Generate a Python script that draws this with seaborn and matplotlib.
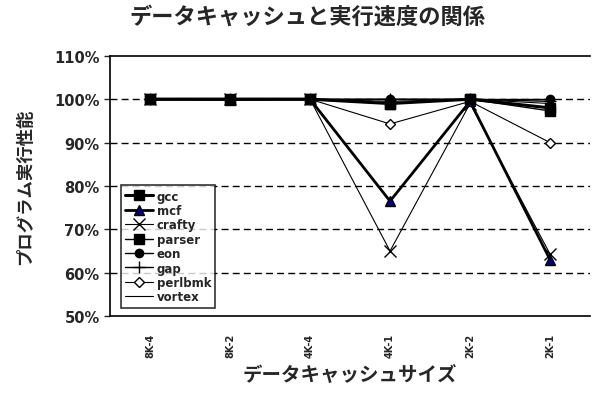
import matplotlib
matplotlib.use("Agg")
import matplotlib.pyplot as plt
from matplotlib.ticker import PercentFormatter, MultipleLocator
import pandas as pd
import seaborn as sns

# -----------------------------------------------------------------------------
# data (fraction of baseline performance)
sizes = ["8K-4", "8K-2", "4K-4", "4K-1", "2K-2", "2K-1"]
gcc = [1.00, 1.00, 1.00, 0.99, 1.00, 0.98]
mcf = [1.00, 1.00, 1.00, 0.765, 0.995, 0.63]
crafty = [1.00, 1.00, 1.00, 0.65, 0.99, 0.643]
parser = [1.00, 0.998, 1.00, 0.99, 1.00, 0.973]
eon = [1.00, 1.00, 1.00, 1.00, 1.00, 1.00]
gap = [1.00, 1.00, 1.00, 1.00, 1.00, 0.995]
perlbmk = [1.00, 1.00, 1.00, 0.943, 0.995, 0.90]
vortex = [1.00, 1.00, 1.00, 0.995, 1.00, 0.99]

series = {"gcc": gcc, "mcf": mcf, "crafty": crafty, "parser": parser,
          "eon": eon, "gap": gap, "perlbmk": perlbmk, "vortex": vortex}

rows = []
for name, vals in series.items():
    for i, v in enumerate(vals):
        rows.append({"bench": name, "pos": i, "perf": v})
df = pd.DataFrame(rows)

# marker / line style for each benchmark
styles = {
    "gcc": dict(marker="s", mfc="black", lw=2.2, ms=7),
    "mcf": dict(marker="^", mfc="#000080", lw=2.0, ms=7),
    "crafty": dict(marker="x", mfc="black", lw=0.8, ms=9),
    "parser": dict(marker="s", mfc="black", lw=1.0, ms=7),
    "eon": dict(marker="o", mfc="black", lw=1.0, ms=6),
    "gap": dict(marker="+", mfc="black", lw=1.0, ms=9),
    "perlbmk": dict(marker="D", mfc="white", lw=0.8, ms=5),
    "vortex": dict(marker="", mfc="black", lw=0.8, ms=5),
}

# -----------------------------------------------------------------------------
sns.set_style("white")
plt.rcParams["font.family"] = ["Noto Sans CJK JP", "DejaVu Sans"]

fig = plt.figure(figsize=(5.96, 4.06), dpi=100)
ax = fig.add_axes([0.1846, 0.219, 0.8054, 0.641])

# draw in reverse so gcc ends up on top, like the original
for name in reversed(list(series)):
    st = styles[name]
    sns.lineplot(data=df[df.bench == name], x="pos", y="perf", ax=ax,
                 color="black", lw=st["lw"], marker=st["marker"] or None,
                 markersize=st["ms"], markerfacecolor=st["mfc"],
                 markeredgecolor="black", markeredgewidth=1.0,
                 label=name, legend=False)

ax.set_xlim(-0.5, 5.5)
ax.set_ylim(0.5, 1.1)
ax.yaxis.set_major_locator(MultipleLocator(0.1))
ax.yaxis.set_major_formatter(PercentFormatter(1.0, decimals=0))
for y in [0.6, 0.7, 0.8, 0.9, 1.0]:
    ax.axhline(y, color="black", lw=1.0, ls=(0, (5, 3)), zorder=0)

ax.set_xticks(range(len(sizes)))
ax.set_xticklabels(sizes, rotation=90, fontsize=7, fontweight="bold",
                   family="DejaVu Sans")
ax.set_xticks([0.5, 1.5, 2.5, 3.5, 4.5], minor=True)
ax.tick_params(axis="x", which="major", length=0, pad=12)
ax.tick_params(axis="x", which="minor", direction="in", length=4, width=1)
ax.tick_params(axis="y", direction="out", length=4, width=1, left=True)
for lab in ax.get_yticklabels():
    lab.set_fontweight("bold")
    lab.set_fontsize(10.5)
    lab.set_family("DejaVu Sans")

for side in ["left", "bottom", "top"]:
    ax.spines[side].set_color("black")
    ax.spines[side].set_linewidth(1.2)
ax.spines["right"].set_visible(False)

ax.set_xlabel("データキャッシュサイズ", fontsize=14, fontweight="bold", labelpad=6)
ax.set_ylabel("プログラム実行性能", fontsize=12.5, fontweight="bold", labelpad=14)
fig.suptitle("データキャッシュと実行速度の関係", x=0.515, y=0.985,
             fontsize=16, fontweight="bold")

handles, labels = ax.get_legend_handles_labels()
order = [labels.index(n) for n in series]
leg = ax.legend([handles[i] for i in order], [labels[i] for i in order],
                loc="lower left", bbox_to_anchor=(0.01, 0.01),
                frameon=True, fancybox=False, edgecolor="black",
                handlelength=2.4, labelspacing=0.12, borderpad=0.35,
                handletextpad=0.3, prop={"weight": "bold", "size": 8.5,
                                         "family": "DejaVu Sans"})
leg.get_frame().set_linewidth(1.2)

fig.savefig("out.png", dpi=100, facecolor="white")
